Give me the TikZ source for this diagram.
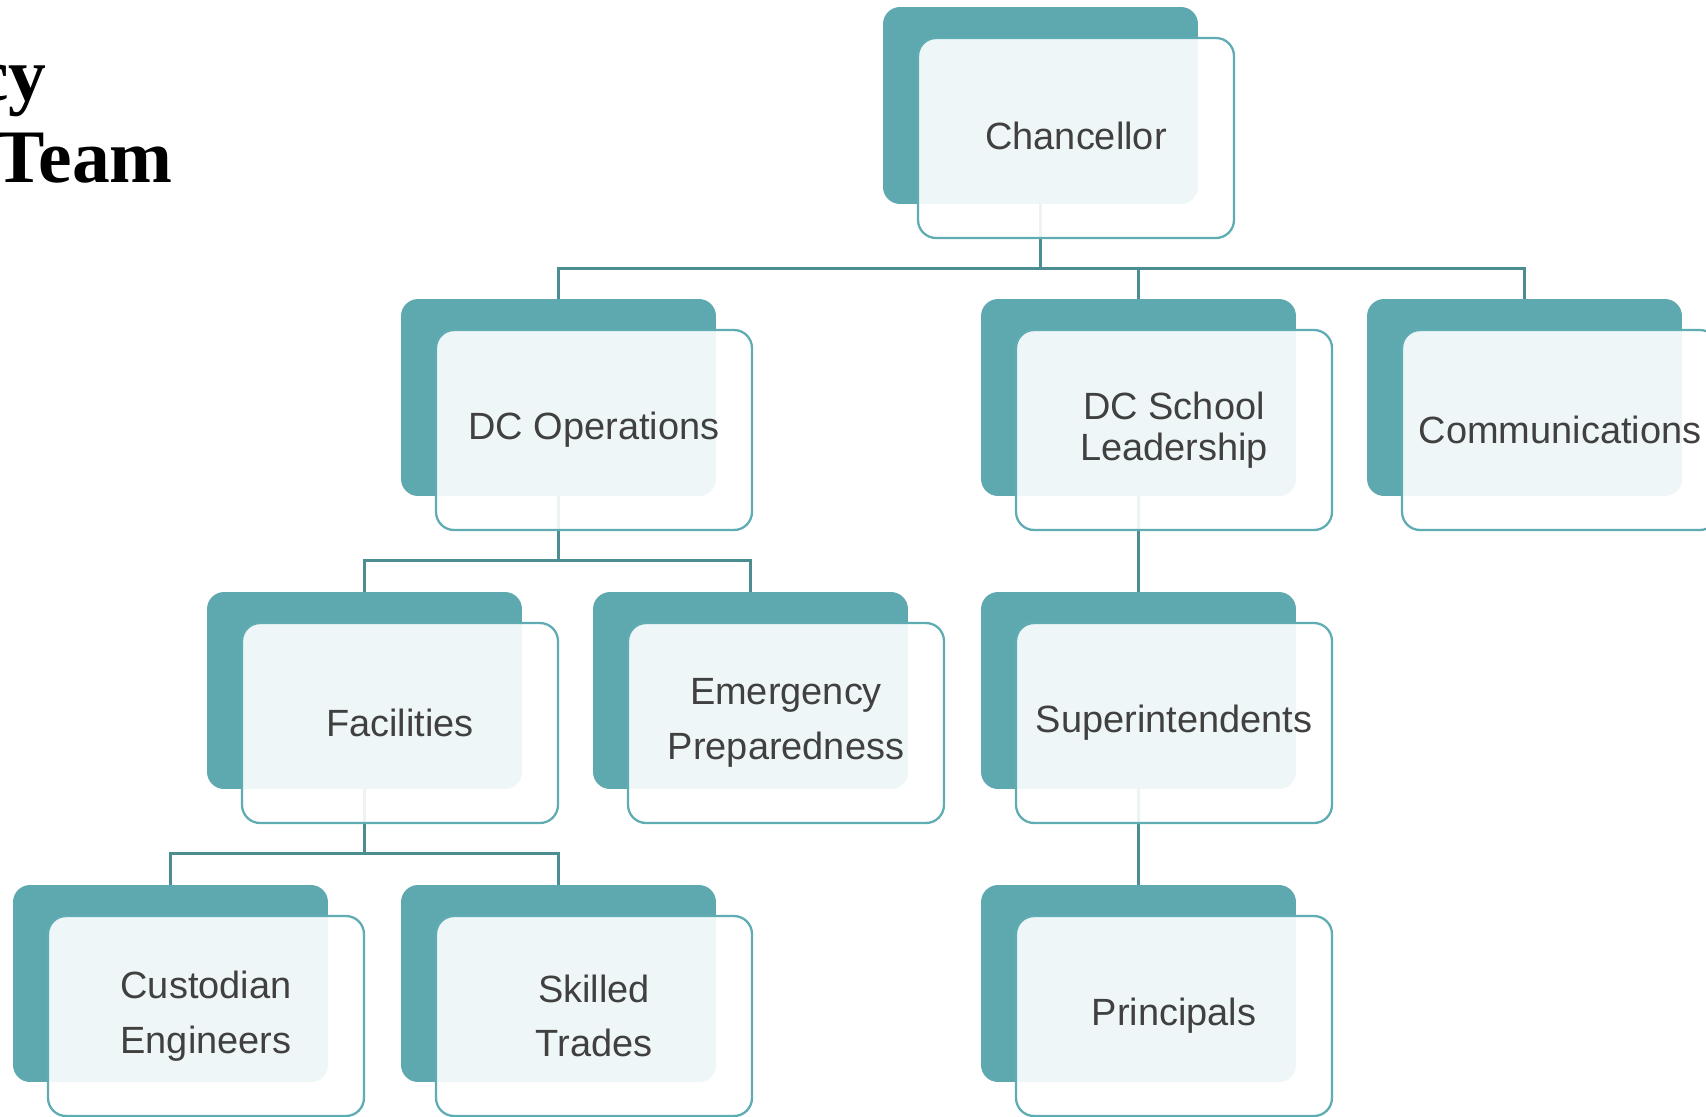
\documentclass[tikz,border=0pt]{standalone}
\usepackage{fontspec}
\setmainfont{Liberation Sans}
\newfontfamily\titlefont{Liberation Serif}
\usetikzlibrary{positioning}

\definecolor{teal1}{HTML}{5EA9AF}
\definecolor{tealline}{HTML}{60ACB3}
\definecolor{teallink}{HTML}{4C8D92}
\definecolor{textgray}{HTML}{404040}

\tikzset{
  backbox/.style={fill=teal1, rounded corners=0.34cm, minimum width=6.3cm, minimum height=3.94cm, inner sep=0pt},
  frontbox/.style={draw=tealline, line width=1.3pt, fill=white, fill opacity=0.9, text opacity=1, rounded corners=0.36cm,
    minimum width=6.32cm, minimum height=4cm, inner sep=0pt, align=center, text=textgray, font=\fontsize{21.6}{23}\selectfont},
  widebox/.style={frontbox, font=\fontsize{21.6}{31}\selectfont},
  link/.style={draw=teallink, line width=1.4pt}
}

\begin{document}
\begin{tikzpicture}[x=0.02cm, y=-0.02cm]
\useasboundingbox (0,0) rectangle (1706,1116);
\clip (0,0) rectangle (1706,1116);

% title, cut at the left edge
\node[anchor=base east, inner sep=0pt, font=\titlefont\bfseries\fontsize{43}{47}\selectfont] (TitleTop) at (47,100) {cy};
\node[anchor=base east, inner sep=0pt, font=\titlefont\bfseries\fontsize{43}{47}\selectfont] (TitleBottom) at (173,182) {Team};

% back boxes
\node[backbox] (Chancellor) at (1040.5,105.5) {};
\node[backbox] (DCOperations) at (558.5,397.5) {};
\node[backbox] (DCSchool) at (1138.5,397.5) {};
\node[backbox] (Communications) at (1524.5,397.5) {};
\node[backbox] (Facilities) at (364.5,690.5) {};
\node[backbox] (Emergency) at (750.5,690.5) {};
\node[backbox] (Superintendents) at (1138.5,690.5) {};
\node[backbox] (Custodian) at (170.5,983.5) {};
\node[backbox] (Skilled) at (558.5,983.5) {};
\node[backbox] (Principals) at (1138.5,983.5) {};

% connectors
\draw[link] (Chancellor.south) -- ++(0,64) -| (DCOperations.north);
\draw[link] (Chancellor.south) -- ++(0,64) -| (DCSchool.north);
\draw[link] (Chancellor.south) -- ++(0,64) -| (Communications.north);
\draw[link] (DCOperations.south) -- ++(0,64) -| (Facilities.north);
\draw[link] (DCOperations.south) -- ++(0,64) -| (Emergency.north);
\draw[link] (DCSchool.south) -- (Superintendents.north);
\draw[link] (Facilities.south) -- ++(0,64) -| (Custodian.north);
\draw[link] (Facilities.south) -- ++(0,64) -| (Skilled.north);
\draw[link] (Superintendents.south) -- (Principals.north);

% front boxes with the texts
\node[frontbox] (ChancellorText) at ([shift={(35.5,32.5)}]Chancellor) {\raisebox{2.5pt}{Chancellor}};
\node[frontbox] (DCOperationsText) at ([shift={(35.5,32.5)}]DCOperations) {DC Operations};
\node[frontbox] (DCSchoolText) at ([shift={(35.5,32.5)}]DCSchool) {DC School\\Leadership};
\node[frontbox] (CommunicationsText) at ([shift={(35.5,32.5)}]Communications) {Communications};
\node[frontbox] (FacilitiesText) at ([shift={(35.5,32.5)}]Facilities) {Facilities};
\node[widebox] (EmergencyText) at ([shift={(35.5,32.5)}]Emergency) {Emergency\\Preparedness};
\node[frontbox] (SuperintendentsText) at ([shift={(35.5,32.5)}]Superintendents) {Superintendents};
\node[widebox] (CustodianText) at ([shift={(35.5,32.5)}]Custodian) {Custodian\\Engineers};
\node[widebox] (SkilledText) at ([shift={(35.5,32.5)}]Skilled) {Skilled\\Trades};
\node[frontbox] (PrincipalsText) at ([shift={(35.5,32.5)}]Principals) {Principals};

\end{tikzpicture}
\end{document}
